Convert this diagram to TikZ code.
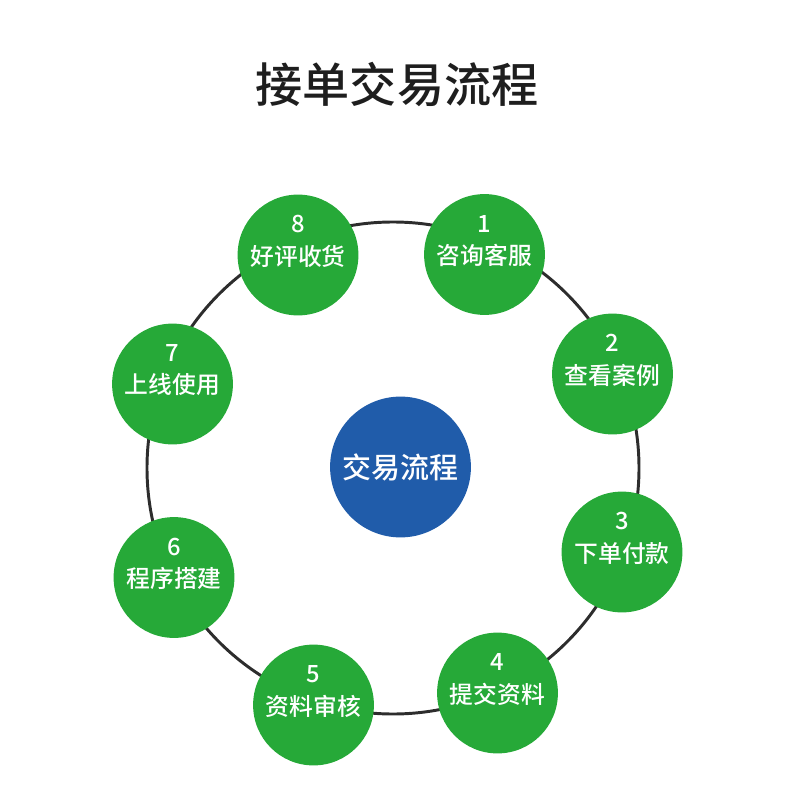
\documentclass[tikz,border=0pt]{standalone}
\usepackage{fontspec}
\setmainfont{Noto Sans CJK SC Medium}
\definecolor{stepgreen}{RGB}{38,169,56}
\definecolor{hubblue}{RGB}{32,92,170}
\definecolor{ringgray}{RGB}{45,45,45}
\definecolor{titleblack}{RGB}{30,30,30}

\tikzset{
  stage/.style={circle, fill=stepgreen, minimum size=3.02cm, inner sep=0pt},
  stagetext/.style={text=white, inner sep=0pt, font=\fontsize{16.9}{20}\selectfont},
  hub/.style={circle, fill=hubblue, minimum size=3.52cm, inner sep=0pt,
    text=white, font=\fontsize{20.6}{24}\selectfont}
}

\begin{document}
\begin{tikzpicture}[x=0.025cm, y=-0.025cm]
        \useasboundingbox (0,0) rectangle (800,800);
        \node[text=titleblack, font=\fontsize{33.5}{40}\selectfont] (title) at (397,84) {接单交易流程};
        % ring behind the steps
        \draw[ringgray, line width=2.1pt] (393,468) circle (246);
        \node[hub] (hub) at (400.5,467) {交易流程};
        \foreach \i/\x/\y/\txt in {1/484.5/254.5/咨询客服, 2/612.5/374/查看案例,
            3/622/552/下单付款, 4/497.5/693/提交资料, 5/313.5/705/资料审核,
            6/174/577.5/程序搭建, 7/172.5/384/上线使用, 8/298/255/好评收货}
        {
          \node[stage] (step\i) at (\x,\y) {};
          \node[stagetext] (num\i) at ([yshift=-0.025cm*(-31)]step\i.center) {\i};
          \node[stagetext] (name\i) at ([yshift=-0.025cm]step\i.center) {\txt};
        }
\end{tikzpicture}
\end{document}
